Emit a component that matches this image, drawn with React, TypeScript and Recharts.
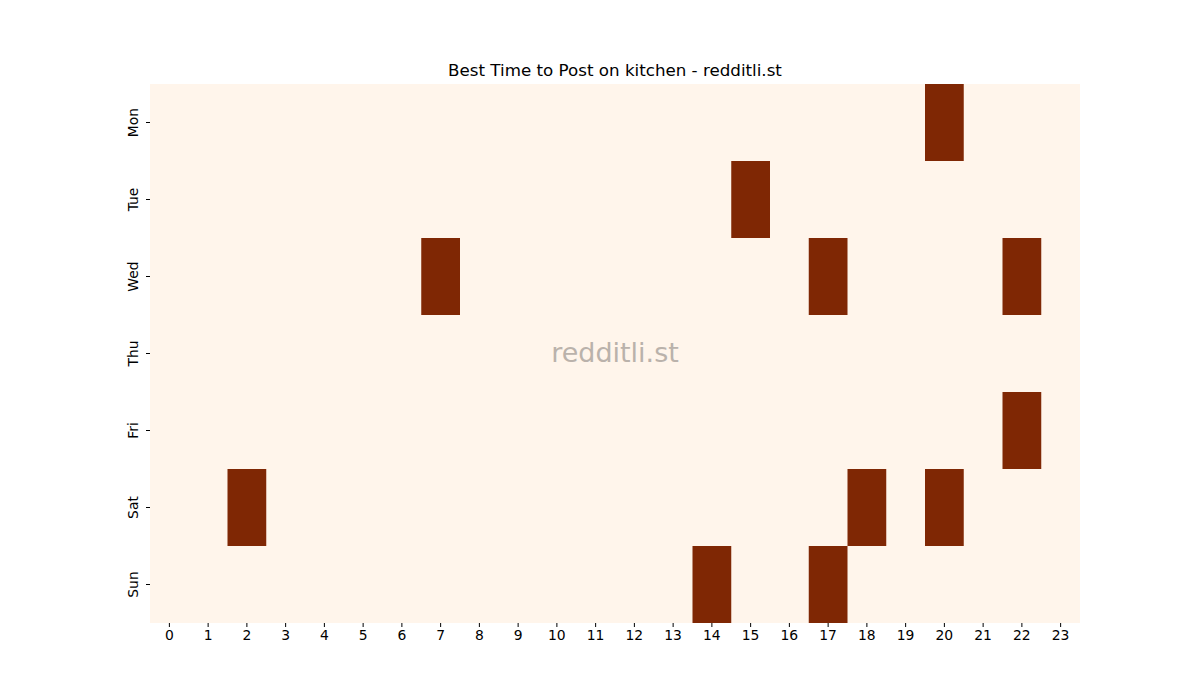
import { BarChart, Bar, Cell, XAxis, YAxis, CartesianGrid } from 'recharts'

const days = ['Mon', 'Tue', 'Wed', 'Thu', 'Fri', 'Sat', 'Sun']
const hours = Array.from({ length: 24 }, (_, i) => i)

// hours marked as best per day
const monHot = [20]
const tueHot = [15]
const wedHot = [7, 17, 22]
const thuHot: number[] = []
const friHot = [22]
const satHot = [2, 18, 20]
const sunHot = [14, 17]

const hotByDay = [monHot, tueHot, wedHot, thuHot, friHot, satHot, sunHot]

const LIGHT = '#fff5eb'
const DARK = '#7f2704'
const FONT = '"DejaVu Sans", sans-serif'

const rows = days.map((day, i) => {
  const row: Record<string, string | number> = { day }
  hours.forEach(h => { row[`h${h}`] = 1 })
  return { ...row, hot: hotByDay[i] }
})

function DayTick({ x, y, payload }: { x?: number; y?: number; payload?: { value: string } }) {
  return (
    <g transform={`translate(${(x ?? 0) - 6},${y ?? 0}) rotate(-90)`}>
      <text textAnchor="middle" fontSize={13.9} fontFamily={FONT} fill="#000">
        {payload?.value}
      </text>
    </g>
  )
}

export default function App() {
  return (
    <div style={{ position: 'absolute', left: 0, top: 0, width: 1200, height: 700, background: '#fff' }}>
      <div
        style={{
          position: 'absolute', left: 0, width: 1230, top: 59, textAlign: 'center',
          fontFamily: FONT, fontSize: 16.7, lineHeight: '22px', color: '#000',
        }}
      >
        Best Time to Post on kitchen - redditli.st
      </div>
      <BarChart
        width={1200}
        height={700}
        data={rows}
        layout="vertical"
        barCategoryGap={0}
        margin={{ top: 84, right: 120, left: 0, bottom: 47 }}
      >
        <CartesianGrid fill={LIGHT} stroke="none" horizontal={false} vertical={false} />
        <XAxis
          type="number"
          domain={[0, 24]}
          ticks={hours.map(h => h + 0.5)}
          tickFormatter={v => String(Math.floor(v))}
          interval={0}
          axisLine={false}
          tickSize={4}
          tickMargin={3}
          height={30}
          tick={{ fontSize: 13.9, fontFamily: FONT, fill: '#000' }}
          tickLine={{ stroke: '#000' }}
        />
        <YAxis
          type="category"
          dataKey="day"
          width={150}
          axisLine={false}
          tickSize={4}
          tickMargin={2}
          tick={<DayTick />}
          tickLine={{ stroke: '#000' }}
        />
        {hours.map(h => (
          <Bar key={h} dataKey={`h${h}`} stackId="a" isAnimationActive={false}>
            {rows.map((r, i) => (
              <Cell key={i} fill={(r.hot as number[]).includes(h) ? DARK : 'transparent'} />
            ))}
          </Bar>
        ))}
      </BarChart>
      <div
        style={{
          position: 'absolute', left: 0, width: 1230, top: 336, textAlign: 'center',
          fontFamily: FONT, fontSize: 27, lineHeight: '34px', color: '#bab2ab',
          pointerEvents: 'none',
        }}
      >
        redditli.st
      </div>
    </div>
  )
}
